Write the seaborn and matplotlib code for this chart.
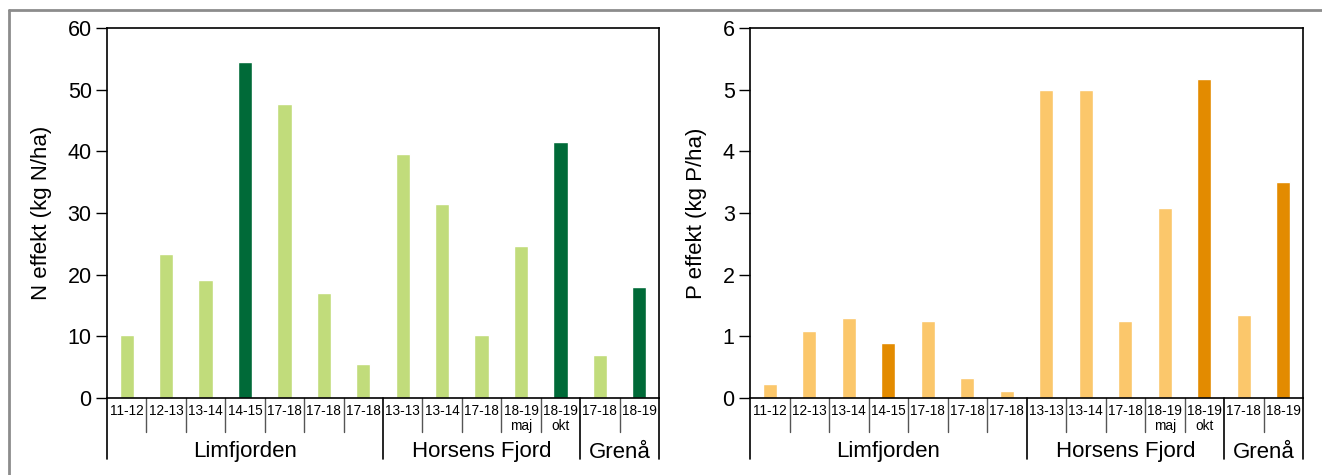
import matplotlib
matplotlib.use('Agg')
import matplotlib.pyplot as plt
import matplotlib.transforms as mtransforms
from matplotlib.lines import Line2D
import seaborn as sns
import pandas as pd

# data
periods = ['11-12', '12-13', '13-14', '14-15', '17-18', '17-18', '17-18',
           '13-13', '13-14', '17-18', '18-19', '18-19', '17-18', '18-19']
sublabels = ['', '', '', '', '', '', '', '', '', '', 'maj', 'okt', '', '']
groups = ['Limfjorden', 'Horsens Fjord', 'Grenå']
group_sizes = [7, 5, 2]
highlight = [False, False, False, True, False, False, False,
             False, False, False, False, True, False, True]
n_effect = [10.2, 23.4, 19.2, 54.5, 47.6, 17.0, 5.5,
            39.6, 31.4, 10.2, 24.7, 41.5, 6.9, 18.0]
p_effect = [0.23, 1.09, 1.29, 0.89, 1.25, 0.33, 0.11,
            4.99, 4.99, 1.25, 3.08, 5.17, 1.34, 3.50]

sns.set_style('ticks')
plt.rcParams['font.family'] = ['Liberation Sans', 'DejaVu Sans']
plt.rcParams['text.color'] = 'black'
plt.rcParams['axes.labelcolor'] = 'black'
plt.rcParams['ytick.color'] = 'black'

fig = plt.figure(figsize=(13.22, 4.75), dpi=100)
ax1 = fig.add_axes([107 / 1322, 77 / 475, 552 / 1322, 370 / 475])
ax2 = fig.add_axes([750 / 1322, 77 / 475, 553 / 1322, 370 / 475])

# outer frame (top and left only visible in the reference)
fig.add_artist(Line2D([9 / 1322, 1.0], [1 - 10 / 475, 1 - 10 / 475],
                      transform=fig.transFigure, color='#8c8c8c', lw=2))
fig.add_artist(Line2D([9 / 1322, 9 / 1322], [0, 1 - 10 / 475],
                      transform=fig.transFigure, color='#8c8c8c', lw=2))

ids = ['b%d' % i for i in range(len(periods))]


def draw_panel(ax, values, light, dark, ymax, step, ylabel):
    df = pd.DataFrame({'id': ids, 'value': values})
    pal = {i: (dark if h else light) for i, h in zip(ids, highlight)}
    sns.barplot(data=df, x='id', y='value', hue='id', palette=pal,
                legend=False, width=0.36, saturation=1, ax=ax, order=ids)
    ax.set_xlim(-0.5, len(ids) - 0.5)
    ax.set_ylim(0, ymax)
    ax.set_yticks([step * k for k in range(int(ymax / step) + 1)])
    ax.tick_params(axis='y', labelsize=15.5, length=8, width=1, direction='out',
                   pad=3, colors='black')
    ax.set_xticks([])
    ax.set_xlabel('')
    ax.set_ylabel(ylabel, fontsize=16, labelpad=11)
    for s in ax.spines.values():
        s.set_visible(True)
        s.set_color('black')
        s.set_linewidth(1.2)

    tr = mtransforms.blended_transform_factory(ax.transData, ax.transAxes)
    px = 1 / 370
    # category labels
    for i, (p, sub) in enumerate(zip(periods, sublabels)):
        ax.text(i, -13 * px, p, transform=tr, ha='center', va='center', fontsize=9.8)
        if sub:
            ax.text(i, -28 * px, sub, transform=tr, ha='center', va='center', fontsize=9.8)
    # dividers
    bounds = [-0.5]
    acc = -0.5
    for g in group_sizes:
        acc += g
        bounds.append(acc)
    for k in range(len(ids) + 1):
        x = k - 0.5
        if x in bounds:
            ax.add_line(Line2D([x, x], [0, -61 * px], transform=tr, color='black',
                               lw=1.2, clip_on=False))
        else:
            ax.add_line(Line2D([x, x], [0, -34 * px], transform=tr, color='#555555',
                               lw=1.0, clip_on=False))
    # group labels
    for gname, a, b in zip(groups, bounds[:-1], bounds[1:]):
        ax.text((a + b) / 2, -54 * px, gname, transform=tr, ha='center', va='center',
                fontsize=16)


draw_panel(ax1, n_effect, '#c1dc7b', '#006a38', 60, 10, 'N effekt (kg N/ha)')
draw_panel(ax2, p_effect, '#fbc76b', '#e38b00', 6, 1, 'P effekt (kg P/ha)')

fig.savefig('out.png', dpi=100)
